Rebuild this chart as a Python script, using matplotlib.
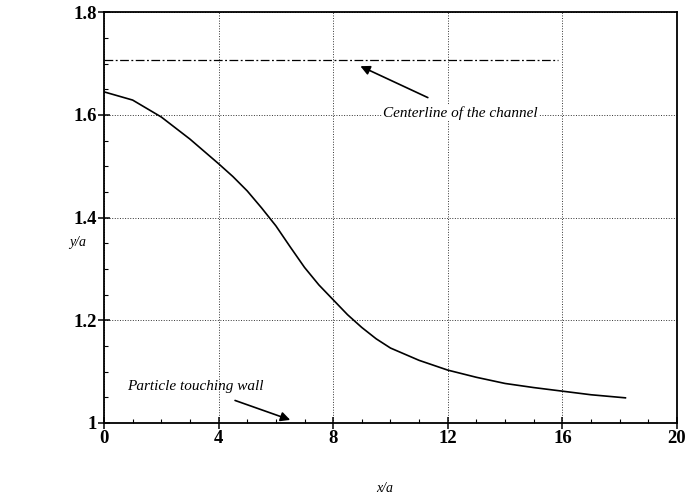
import numpy as np
import matplotlib.pyplot as plt
from matplotlib.ticker import MultipleLocator

plt.rcParams['font.family'] = ['Liberation Serif', 'DejaVu Serif']

# particle trajectory, y/a against x/a
x_traj = [0, 1, 2, 3, 4, 4.5, 5, 5.5, 6, 6.5, 7, 7.5, 8, 8.5, 9, 9.5, 10,
          11, 12, 13, 14, 15, 16, 17, 18.2]
y_traj = [1.645, 1.629, 1.596, 1.553, 1.505, 1.480, 1.452, 1.419, 1.384,
          1.343, 1.303, 1.269, 1.240, 1.211, 1.186, 1.164, 1.146,
          1.122, 1.103, 1.089, 1.077, 1.069, 1.062, 1.055, 1.049]

# centerline of the channel
x_center = [0, 15.85]
y_center = [1.708, 1.708]

x_ticks = [0, 4, 8, 12, 16, 20]
y_ticks = [1, 1.2, 1.4, 1.6, 1.8]
y_ticklabels = ['1', '1.2', '1.4', '1.6', '1.8']

fig = plt.figure(figsize=(6.85, 4.97), dpi=100)
ax = fig.add_axes([0.1518, 0.1489, 0.8365, 0.8264])

ax.plot(x_traj, y_traj, color='black', lw=1.2)
ax.plot(x_center, y_center, color='black', lw=0.9, linestyle=(0, (7, 2, 1.5, 2)))

ax.set_xlim(0, 20)
ax.set_ylim(1, 1.8)
ax.set_xticks(x_ticks)
ax.set_yticks(y_ticks)
ax.set_yticklabels(y_ticklabels)
ax.xaxis.set_minor_locator(MultipleLocator(1))
ax.yaxis.set_minor_locator(MultipleLocator(0.05))
ax.tick_params(which='major', direction='inout', length=8, width=1.1,
               labelsize=13.5, pad=1)
ax.tick_params(which='minor', direction='in', length=3, width=0.8)
ax.tick_params(top=False, right=False)
for lab in ax.get_xticklabels() + ax.get_yticklabels():
    lab.set_fontweight('bold')
ax.grid(True, which='major', linestyle=':', color='#333333', lw=0.7)
for s in ax.spines.values():
    s.set_linewidth(1.3)

fig.text(0.113, 0.512, 'y/a', style='italic', fontsize=10, ha='center', va='center')
fig.text(0.562, 0.004, 'x/a', style='italic', fontsize=10, ha='center', va='bottom')

ax.annotate('Centerline of the channel', xy=(8.95, 1.695), xytext=(12.45, 1.604),
            fontsize=11, style='italic', ha='center', va='center',
            bbox=dict(facecolor='white', edgecolor='none', pad=1),
            arrowprops=dict(arrowstyle='-|>', color='black', lw=1.2,
                            mutation_scale=14, shrinkA=12, shrinkB=0))
ax.annotate('Particle touching wall', xy=(6.5, 1.006), xytext=(3.2, 1.071),
            fontsize=11, style='italic', ha='center', va='center',
            arrowprops=dict(arrowstyle='-|>', color='black', lw=1.2,
                            mutation_scale=14, shrinkA=10, shrinkB=0))

fig.savefig('out.png', dpi=100)
